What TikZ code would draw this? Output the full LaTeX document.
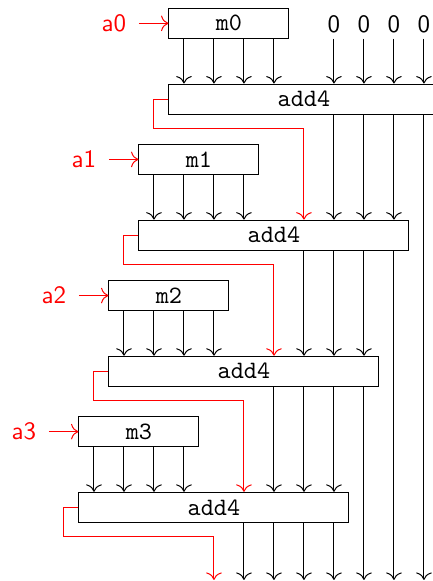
\documentclass[tikz,border=0pt]{standalone}
\usetikzlibrary{positioning,arrows.meta}

\begin{document}
\begin{tikzpicture}[x=12pt, y=-12pt, >={To[scale=1.2]},
    mbox/.style={rectangle, draw, font=\ttfamily, minimum width=48pt,
      minimum height=12pt, inner sep=0pt},
    addbox/.style={rectangle, draw, font=\ttfamily, minimum width=108pt,
      minimum height=12pt, inner sep=0pt},
    carry/.style={red, ->},
    inlbl/.style={font=\sffamily, text=red, inner xsep=4.9pt, anchor=east},
    zerolbl/.style={font=\sffamily, inner sep=2pt, anchor=south}
    ]

\useasboundingbox (0,0) rectangle (14.433,19.367);
\clip (0,0) rectangle (14.433,19.367);
\coordinate (bot) at (0,19.33);

% zeros feeding the first adder
\foreach \k in {5,...,8}
  \node[zerolbl] (z\k) at (6.133+\k,1.29) {0};

% one multiplier row and one adder per stage
\foreach \i in {0,...,3} {
  \pgfmathsetmacro{\cx}{6.133-\i}
  \pgfmathsetmacro{\ty}{0.777+4.537*\i}
  \node[mbox] (m\i) at (\cx+1.5,\ty) {m\i};
  \node[addbox] (s\i) at (\cx+4,\ty+2.523) {add4};
  \node[inlbl] (a\i) at (\cx-1.5,\ty) {a\i};
  \draw[carry] (a\i) -- (m\i);
  \foreach \k in {0,...,8}
    \coordinate (col\i\k) at (\cx+\k,0);
  \coordinate (bend\i) at (\cx+4,\ty+3.503);
  \foreach \k in {0,...,3}
    \draw[->] (m\i.south -| col\i\k) -- (s\i.north -| col\i\k);
}

\foreach \k in {5,...,8}
  \draw[->] (z\k) -- (s0.north -| z\k);

% sums passed down to the next adder
\foreach \i/\j in {0/1,1/2,2/3} {
  \foreach \k in {6,7,8}
    \draw[->] (s\i.south -| col\j\k) -- (s\j.north -| col\j\k);
  \draw[->] (s\i.south -| col\i8) -- (bot -| col\i8);
  \draw[carry] (s\i.west) -- ++(-0.5,0) |- (bend\i) -- (s\j.north -| bend\i);
}

\foreach \k in {5,...,8}
  \draw[->] (s3.south -| col3\k) -- (bot -| col3\k);
\draw[carry] (s3.west) -- ++(-0.5,0) |- (bend3) -- (bot -| bend3);
\end{tikzpicture}
\end{document}
